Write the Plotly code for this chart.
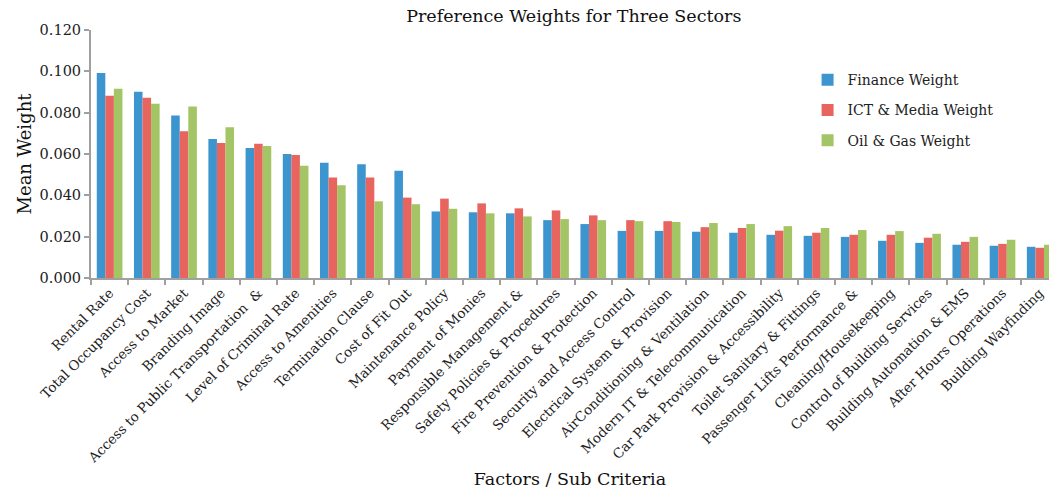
import plotly.graph_objects as go

categories = [
    "Rental Rate", "Total Occupancy Cost", "Access to Market", "Branding Image",
    "Access to Public Transportation  &", "Level of Criminal Rate", "Access to Amenities",
    "Termination Clause", "Cost of Fit Out", "Maintenance Policy", "Payment of Monies",
    "Responsible Management &", "Safety Policies & Procedures", "Fire Prevention & Protection",
    "Security and Access Control", "Electrical System & Provision",
    "AirConditioning & Ventilation", "Modern IT & Telecommunication",
    "Car Park Provision & Accessibility", "Toilet Sanitary & Fittings",
    "Passenger Lifts Performance &", "Cleaning/Housekeeping", "Control of Building Services",
    "Building Automation & EMS", "After Hours Operations", "Building Wayfinding",
]

finance = [0.0992, 0.0901, 0.0786, 0.0673, 0.0629, 0.0600, 0.0558, 0.0551, 0.0519,
           0.0322, 0.0318, 0.0313, 0.0280, 0.0261, 0.0228, 0.0228, 0.0224, 0.0219,
           0.0209, 0.0204, 0.0199, 0.0180, 0.0170, 0.0161, 0.0156, 0.0151]
ict = [0.0882, 0.0872, 0.0710, 0.0653, 0.0649, 0.0595, 0.0486, 0.0486, 0.0389,
       0.0384, 0.0361, 0.0337, 0.0327, 0.0303, 0.0280, 0.0275, 0.0246, 0.0242,
       0.0229, 0.0219, 0.0209, 0.0209, 0.0195, 0.0175, 0.0165, 0.0146]
oilgas = [0.0916, 0.0843, 0.0830, 0.0730, 0.0639, 0.0543, 0.0449, 0.0371, 0.0357,
          0.0335, 0.0313, 0.0298, 0.0285, 0.0280, 0.0275, 0.0271, 0.0266, 0.0261,
          0.0251, 0.0242, 0.0232, 0.0227, 0.0214, 0.0199, 0.0185, 0.0161]

series_names = ["Finance Weight", "ICT & Media Weight", "Oil & Gas Weight"]
colors = ["#3D95CF", "#E8645E", "#A3C565"]

serif = "DejaVu Serif"
title_font = "DejaVu Serif"

fig = go.Figure()
for name, vals, col in zip(series_names, [finance, ict, oilgas], colors):
    fig.add_trace(go.Bar(
        x=categories, y=vals, name=name, legendgroup=name,
        marker=dict(color=col, line=dict(width=0)),
    ))

fig.update_layout(
    width=1049, height=490,
    paper_bgcolor="white", plot_bgcolor="white",
    margin=dict(l=91, r=0, t=30, b=212),
    barmode="group", bargap=0.31, bargroupgap=0,
    title=dict(text="Preference Weights for Three Sectors", x=0.547, xanchor="center",
               y=0.968, yanchor="middle",
               font=dict(family=title_font, size=17.5, color="#111")),
    legend=dict(x=0.748, y=0.862, xanchor="left", yanchor="top",
                font=dict(family=serif, size=14, color="#222"),
                tracegroupgap=9, bgcolor="rgba(0,0,0,0)"),
    font=dict(family=serif, color="#222"),
)

fig.update_xaxes(
    type="category", range=[-0.5, 25.25],
    showline=True, linecolor="#A0A0A0", linewidth=2,
    ticks="outside", tickson="boundaries", ticklen=5, tickcolor="#A0A0A0", tickwidth=2,
    tickangle=-45, tickfont=dict(family=serif, size=13.5, color="#222"),
    showgrid=False,
    title=dict(text="Factors / Sub Criteria", font=dict(family=title_font, size=17.5, color="#111"),
               standoff=8),
)
fig.update_yaxes(
    range=[0, 0.120], tickvals=[0, 0.02, 0.04, 0.06, 0.08, 0.10, 0.12],
    tickformat=".3f",
    showline=True, linecolor="#A0A0A0", linewidth=2,
    ticks="outside", ticklen=5, tickcolor="#A0A0A0", tickwidth=2,
    tickfont=dict(family=serif, size=14.5, color="#222"),
    showgrid=False, zeroline=False,
    title=dict(text="Mean Weight", font=dict(family=title_font, size=18, color="#111"),
               standoff=3),
)

fig.write_html("out.html")
